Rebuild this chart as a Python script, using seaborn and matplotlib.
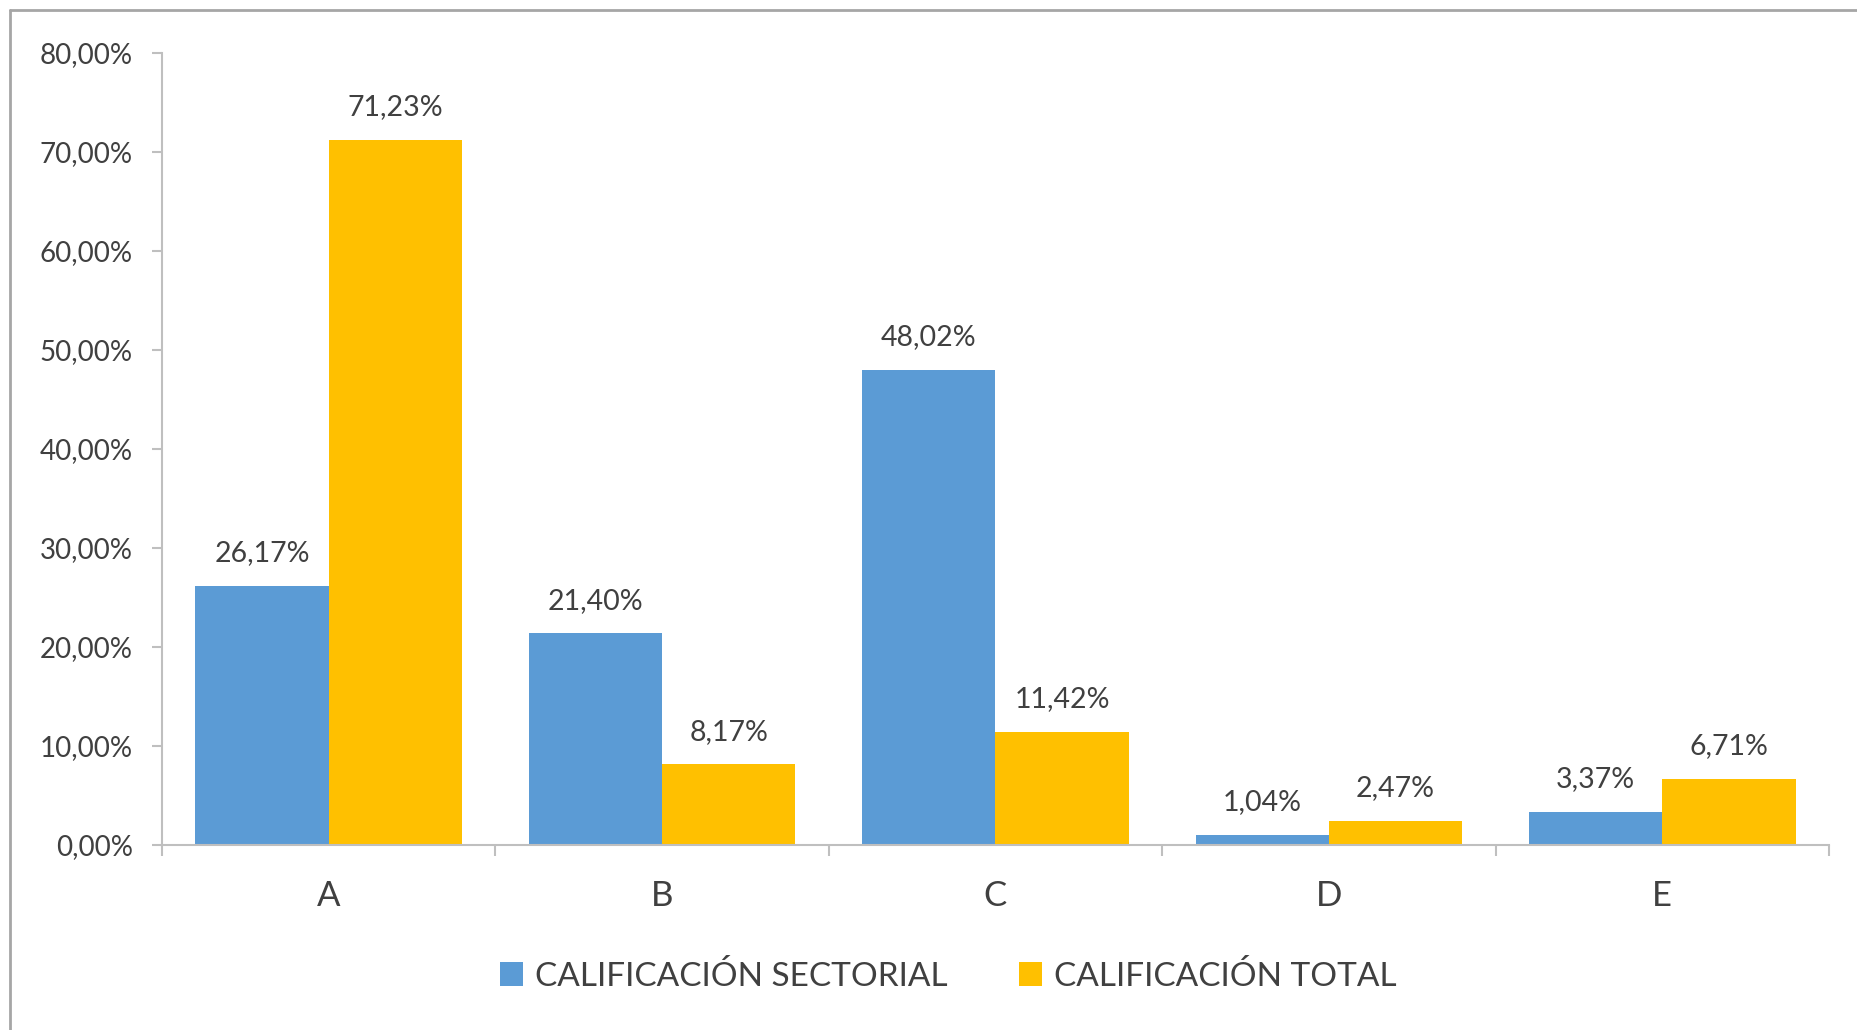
import matplotlib
matplotlib.use("Agg")
import matplotlib.pyplot as plt
import seaborn as sns
import pandas as pd
from matplotlib.lines import Line2D
from matplotlib.ticker import FuncFormatter, FixedLocator

categories = ["A", "B", "C", "D", "E"]
sectorial = [26.17, 21.40, 48.02, 1.04, 3.37]
total = [71.23, 8.17, 11.42, 2.47, 6.71]
series_names = ["CALIFICACIÓN SECTORIAL", "CALIFICACIÓN TOTAL"]
colors = ["#5B9BD5", "#FFC000"]
yticks = [0, 10, 20, 30, 40, 50, 60, 70, 80]

df = pd.DataFrame({
    "cat": categories * 2,
    "val": sectorial + total,
    "serie": [series_names[0]] * len(categories) + [series_names[1]] * len(categories),
})

sns.set_theme(style="white")
plt.rcParams["font.family"] = ["Lato", "DejaVu Sans"]

TXT = "#404040"
AX = "#BFBFBF"

fig = plt.figure(figsize=(18.58, 10.30), dpi=100)
ax = fig.add_axes([162 / 1858, 1 - 845 / 1030, (1829 - 162) / 1858, (845 - 53) / 1030])

sns.barplot(data=df, x="cat", y="val", hue="serie", palette=colors, width=0.8,
            saturation=1, ax=ax, legend=False, edgecolor="none", linewidth=0)

for cont in ax.containers:
    labels = [f"{b.get_height():.2f}".replace(".", ",") + "%" for b in cont]
    ax.bar_label(cont, labels=labels, padding=14, fontsize=20.5, color=TXT)

ax.set_ylim(0, 80)
ax.set_xlim(-0.5, 4.5)
ax.set_yticks(yticks)
ax.yaxis.set_major_formatter(FuncFormatter(lambda v, p: f"{v:.2f}".replace(".", ",") + "%"))
ax.tick_params(axis="y", length=7, width=1.5, color=AX, pad=14, labelsize=20, labelcolor=TXT, left=True)

ax.xaxis.set_major_locator(FixedLocator([i - 0.5 for i in range(len(categories) + 1)]))
ax.xaxis.set_minor_locator(FixedLocator(list(range(len(categories)))))
ax.set_xticklabels([], minor=False)
ax.set_xticklabels(categories, minor=True)
ax.tick_params(axis="x", which="major", length=8, width=1.5, color=AX, bottom=True)
ax.tick_params(axis="x", which="minor", length=0, pad=25, labelsize=25, labelcolor=TXT)

ax.set_xlabel("")
ax.set_ylabel("")
for s in ["top", "right"]:
    ax.spines[s].set_visible(False)
for s in ["left", "bottom"]:
    ax.spines[s].set_color(AX)
    ax.spines[s].set_linewidth(1.5)

handles = [plt.Rectangle((0, 0), 1, 1, facecolor=c, edgecolor="none") for c in colors]
fig.legend(handles, series_names, loc="center", bbox_to_anchor=(948 / 1858, 1 - 976 / 1030),
           ncol=2, frameon=False, fontsize=24, handlelength=0.7, handleheight=0.7,
           handletextpad=0.35, columnspacing=2.15, labelcolor=TXT)

# outer chart-area border (top and left visible)
fig.add_artist(Line2D([10 / 1858, 1.0], [1 - 10 / 1030, 1 - 10 / 1030], color="#A6A6A6",
                      linewidth=2, transform=fig.transFigure))
fig.add_artist(Line2D([10 / 1858, 10 / 1858], [0.0, 1 - 10 / 1030], color="#A6A6A6",
                      linewidth=2, transform=fig.transFigure))

fig.savefig("out.png", dpi=100)
